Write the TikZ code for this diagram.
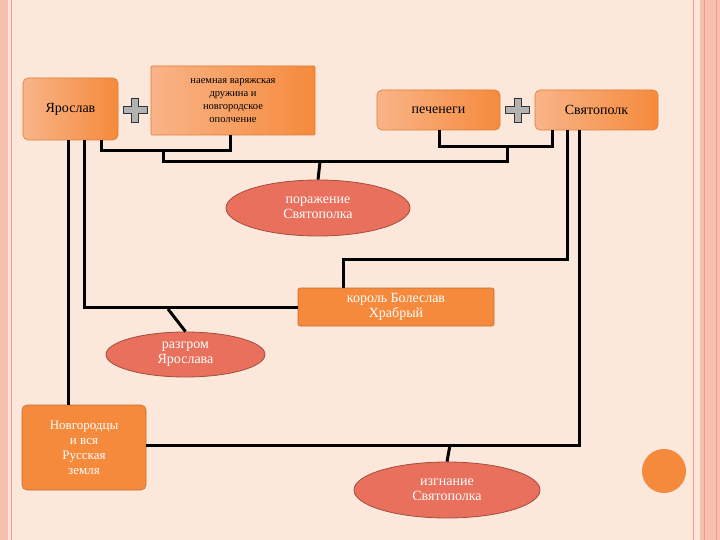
\documentclass[tikz,border=0pt]{standalone}
\usepackage{fontspec}
\setmainfont{Liberation Serif}
\usetikzlibrary{shapes.geometric}
\definecolor{bg}{HTML}{FCE8DA}
\definecolor{orl}{HTML}{F9B488}
\definecolor{ord}{HTML}{F58A3C}
\definecolor{ell}{HTML}{E8705C}
\definecolor{pink}{HTML}{F6BFAE}
\begin{document}
\begin{tikzpicture}[x=1pt,y=-1pt,
 lbox/.style={draw=ord!90!black,line width=0.6pt,rounded corners=5pt,left color=orl,right color=ord,inner sep=0pt,align=center,text=black},
 dbox/.style={draw=ord!80!black,line width=0.6pt,rounded corners=5pt,fill=ord,inner sep=0pt,align=center,text=white},
 oval/.style={ellipse,draw=ell!70!black,line width=0.8pt,fill=ell,inner sep=0pt,align=center,text=white,font=\fontsize{14}{15}\selectfont},
 ln/.style={line width=3pt,black},
 plus/.style={fill=gray!60,draw=gray!40!black,line width=0.6pt}]
\useasboundingbox (0,0) rectangle (720,540);
\fill[bg] (0,0) rectangle (720,540);
\fill[pink] (0,0) rectangle (8,540);
\draw[pink!80!red,line width=1pt] (11,0) -- (11,540);
\fill[pink] (700,0) rectangle (720,540);
\draw[pink!80!red,line width=1pt] (693,0) -- (693,540) (704,0)--(704,540) (716,0)--(716,540);
% nodes
\node[lbox,minimum width=95,minimum height=62,font=\fontsize{14}{15}\selectfont] (yar) at (70.5,109) {Ярослав};
\node[lbox,rounded corners=1pt,minimum width=164,minimum height=69,font=\fontsize{10.5}{13}\selectfont] (nv) at (233,100.5) {наемная варяжская\\дружина и\\новгородское\\ополчение};
\node[lbox,minimum width=123,minimum height=40,font=\fontsize{14}{15}\selectfont] (pe) at (438.5,110) {печенеги};
\node[lbox,minimum width=123,minimum height=40,font=\fontsize{14}{15}\selectfont] (sv) at (596.5,110) {Святополк};
\node[oval,minimum width=184,minimum height=56] (por) at (318,208) {поражение\\Святополка};
\node[dbox,rounded corners=2pt,minimum width=196,minimum height=38,font=\fontsize{14}{15}\selectfont] (kb) at (396,307) {король Болеслав\\Храбрый};
\node[oval,minimum width=159,minimum height=45] (raz) at (185.5,354.5) {разгром\\Ярослава};
\node[dbox,minimum width=124,minimum height=85,font=\fontsize{13}{15}\selectfont] (nov) at (84,447.5) {Новгородцы\\и вся\\Русская\\земля};
\node[oval,minimum width=186,minimum height=56] (izg) at (447,490) {изгнание\\Святополка};
\node[circle,fill=ord,minimum width=44,inner sep=0pt] (dot) at (664,471) {};
% plus signs
\foreach \cx in {135,517.5}{
 \draw[plus] (\cx-3.5,98)--(\cx+3.5,98)--(\cx+3.5,106.5)--(\cx+12,106.5)--(\cx+12,113.5)--(\cx+3.5,113.5)--(\cx+3.5,122)--(\cx-3.5,122)--(\cx-3.5,113.5)--(\cx-12,113.5)--(\cx-12,106.5)--(\cx-3.5,106.5)--cycle;}
% connectors
\coordinate (j1) at (163,151);
\coordinate (j2) at (507,147);
\draw[ln] (yar.south -| 101,0) |- (j1) -| (nv.south -| 230,0);
\draw[ln] (j1) |- (320,162) -| (j2);
\draw[ln] (320,162) -- (por.north);
\draw[ln] (pe.south -| 439,0) |- (j2) -| (sv.south -| 552,0);
\draw[ln] (yar.south -| 68,0) -- (nov.north -| 68,0);
\draw[ln] (yar.south -| 84,0) |- (kb.west);
\draw[ln] (168,309) -- (raz.north);
\draw[ln] (sv.south -| 567,0) |- (343,259) -- (kb.north -| 343,0);
\draw[ln] (sv.south -| 579,0) |- (nov.east |- 0,445);
\draw[ln] (450,445) -- (izg.north);
\end{tikzpicture}
\end{document}
